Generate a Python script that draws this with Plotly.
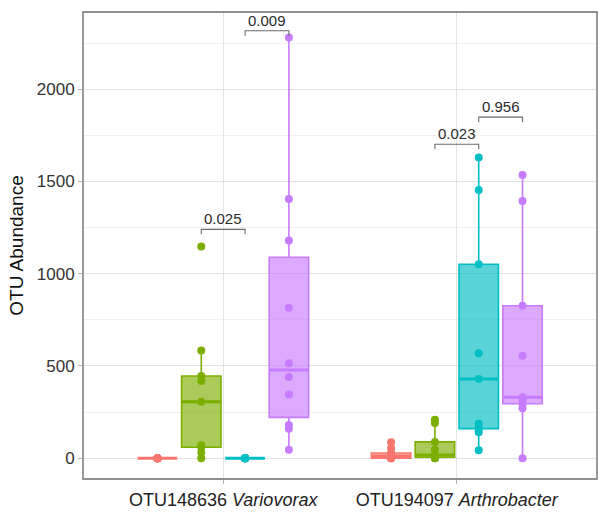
import numpy as np
import plotly.graph_objects as go

# Two OTUs on the x axis, four treatment groups dodged within each
categories = ["OTU148636 <i>Variovorax</i>", "OTU194097 <i>Arthrobacter</i>"]
groups = ["A", "B", "C", "D"]
colors = ["#F8766D", "#7CAE00", "#00BFC4", "#C77CFF"]

# Per-sample OTU abundance
variovorax_a = [0, 0, 0, 0, 0, 0, 0, 0, 0, 0]
variovorax_b = [0, 30, 59, 70, 306, 418, 445, 584, 1147]
variovorax_c = [0, 0, 0, 0, 0, 0, 0, 0, 0]
variovorax_d = [45, 160, 180, 345, 440, 515, 815, 1180, 1405, 2280]

arthrobacter_a = [0, 0, 0, 3, 10, 16, 28, 54, 86]
arthrobacter_b = [0, 0, 5, 12, 17, 45, 88, 190, 208]
arthrobacter_c = [43, 140, 160, 186, 429, 568, 1051, 1453, 1630]
arthrobacter_d = [0, 270, 295, 315, 330, 555, 826, 1394, 1534]

series = [
    [variovorax_a, variovorax_b, variovorax_c, variovorax_d],
    [arthrobacter_a, arthrobacter_b, arthrobacter_c, arthrobacter_d],
]

# Pairwise comparisons: (category, group i, group j), p-value, bracket height
comparisons = [(0, 1, 2), (0, 2, 3), (1, 1, 2), (1, 2, 3)]
p_values = ["0.025", "0.009", "0.023", "0.956"]
bracket_y = [1240, 2316, 1701, 1848]

y_ticks = [0, 500, 1000, 1500, 2000]

dodge = 0.75 / len(groups)
box_w = dodge * 0.9


def xpos(ci, gi):
    return ci + 1 + (gi - (len(groups) - 1) / 2) * dodge


def rgba(hex_col, a):
    h = hex_col.lstrip("#")
    r, g, b = int(h[0:2], 16), int(h[2:4], 16), int(h[4:6], 16)
    return f"rgba({r},{g},{b},{a})"


fig = go.Figure()

for ci, cat_vals in enumerate(series):
    for gi, vals in enumerate(cat_vals):
        v = np.array(vals, dtype=float)
        q1, med, q3 = np.percentile(v, [25, 50, 75])
        iqr = q3 - q1
        lo = v[v >= q1 - 1.5 * iqr].min()
        hi = v[v <= q3 + 1.5 * iqr].max()
        x = xpos(ci, gi)
        col = colors[gi]
        fig.add_trace(go.Box(
            x=[x], q1=[q1], median=[med], q3=[q3],
            lowerfence=[lo], upperfence=[hi],
            width=box_w, whiskerwidth=0,
            line=dict(color=col, width=1.6),
            fillcolor=rgba(col, 0.65),
            boxpoints=False, showlegend=False, hoverinfo="skip",
        ))
        # thicker median bar
        fig.add_trace(go.Scatter(
            x=[x - box_w / 2, x + box_w / 2], y=[med, med], mode="lines",
            line=dict(color=col, width=3), showlegend=False, hoverinfo="skip",
        ))
        fig.add_trace(go.Scatter(
            x=[x] * len(v), y=v, mode="markers",
            marker=dict(color=col, size=8, line=dict(width=0)),
            showlegend=False, hoverinfo="skip",
        ))

# Significance brackets
tip = 27
for (ci, g1, g2), p, yb in zip(comparisons, p_values, bracket_y):
    x1, x2 = xpos(ci, g1), xpos(ci, g2)
    fig.add_trace(go.Scatter(
        x=[x1, x1, x2, x2], y=[yb - tip, yb, yb, yb - tip], mode="lines",
        line=dict(color="#6b6b6b", width=1.1), showlegend=False, hoverinfo="skip",
    ))
    fig.add_annotation(
        x=(x1 + x2) / 2, y=yb, text=p, showarrow=False, yanchor="bottom",
        yshift=0, font=dict(size=15, color="#2b2b2b"),
    )

fig.add_shape(
    type="rect", xref="paper", yref="paper", x0=0, x1=1, y0=0, y1=1,
    line=dict(color="#8f8f8f", width=1.8), layer="above",
)

fig.update_layout(
    width=599, height=512,
    margin=dict(l=83, r=2, t=12, b=28),
    paper_bgcolor="white", plot_bgcolor="white",
    font=dict(family="Liberation Sans, Arial, sans-serif"),
    showlegend=False,
)
fig.update_xaxes(
    range=[0.4, 2.6], tickvals=[1, 2], ticktext=categories,
    showgrid=True, gridcolor="#e2e2e2", gridwidth=1, zeroline=False,
    ticks="outside", ticklen=4, tickcolor="#b3b3b3",
    tickfont=dict(size=18, color="#222222"),
)
fig.update_yaxes(
    range=[-113, 2418], tickvals=y_ticks,
    showgrid=True, gridcolor="#e2e2e2", gridwidth=1, zeroline=False,
    minor=dict(dtick=250, tick0=0, showgrid=True, gridcolor="#f0f0f0", gridwidth=1),
    ticks="outside", ticklen=4, tickcolor="#b3b3b3",
    tickfont=dict(size=17, color="#333333"),
    title=dict(text="OTU Abundance", font=dict(size=19, color="#111111"), standoff=8),
)

fig.write_html("out.html")
